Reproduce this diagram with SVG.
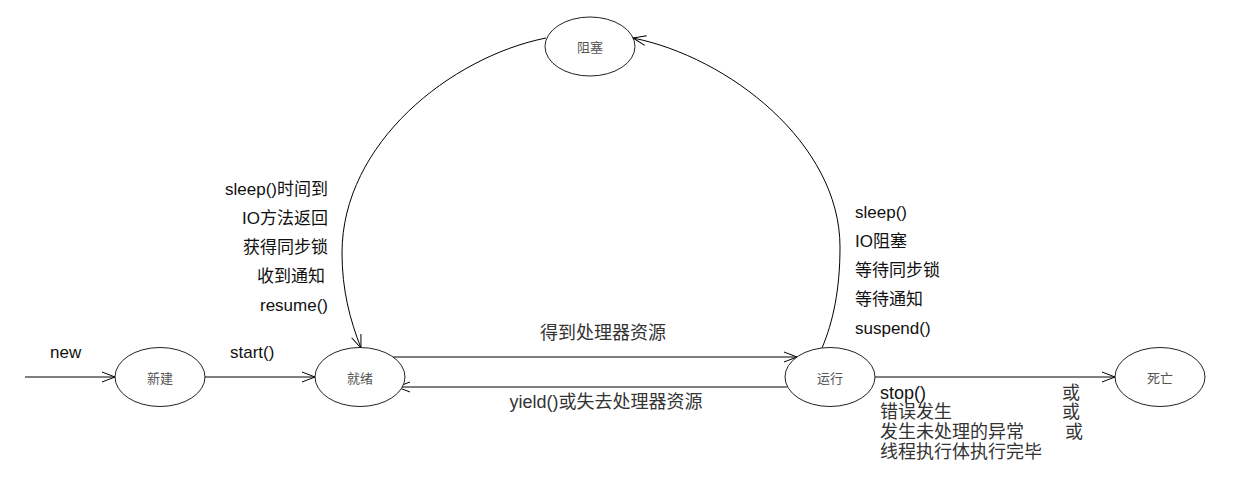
<svg xmlns="http://www.w3.org/2000/svg" width="1248" height="499" viewBox="0 0 1248 499">
<style>
.node ellipse{fill:#fff;stroke:#222;stroke-width:1}
.node text{font-family:"Liberation Sans","Noto Sans CJK SC",sans-serif;font-size:13px;fill:#555;text-anchor:middle}
.edge{fill:none;stroke:#000;stroke-width:1;marker-end:url(#arr)}
.lbl{font-family:"Liberation Sans","Noto Sans CJK SC",sans-serif;font-size:17px;fill:#111}
.mid{font-family:"Liberation Sans","Noto Sans CJK SC",sans-serif;font-size:18px;fill:#333;text-anchor:middle}
.bot{font-family:"Liberation Sans","Noto Sans CJK SC",sans-serif;font-size:18px;fill:#333}
</style>
<defs>
<marker id="arr" markerUnits="userSpaceOnUse" viewBox="-15 -10 20 20" markerWidth="20" markerHeight="20" refX="0" refY="0" orient="auto" overflow="visible">
<path d="M-13,-5 L0,0 L-13,5" fill="none" stroke="#000" stroke-width="1"/>
</marker>
</defs>
<rect width="1248" height="499" fill="#fff"/>
<g id="connectors">
<path class="edge" d="M25,377 L115,377"/>
<path class="edge" d="M204,377 L315,377"/>
<path class="edge" d="M393,357 L797,357"/>
<path class="edge" d="M787,387 L397,387"/>
<path class="edge" d="M875,377 L1115,377"/>
<path class="edge" d="M546,38 C451,57 342,143 342,253 C342,290 350,320 361,348"/>
<path class="edge" d="M822,348 C833,322 840,290 840,247 C840,143 728,57 633,38"/>
</g>
<g id="node-new" class="node"><ellipse cx="160" cy="377" rx="45" ry="29.5"/><text x="160" y="383">新建</text></g>
<g id="node-ready" class="node"><ellipse cx="360" cy="377" rx="45" ry="29.5"/><text x="360" y="383">就绪</text></g>
<g id="node-running" class="node"><ellipse cx="830" cy="377" rx="45" ry="29.5"/><text x="830" y="383">运行</text></g>
<g id="node-dead" class="node"><ellipse cx="1160" cy="377" rx="45" ry="29.5"/><text x="1160" y="383">死亡</text></g>
<g id="node-blocked" class="node"><ellipse cx="590" cy="46.5" rx="45" ry="29.5"/><text x="590" y="52">阻塞</text></g>
<g id="labels">
<text class="lbl" x="50" y="358">new</text>
<text class="lbl" x="230" y="358">start()</text>
<g text-anchor="end">
<text class="lbl" x="328" y="195">sleep()时间到</text>
<text class="lbl" x="328" y="224">IO方法返回</text>
<text class="lbl" x="328" y="253">获得同步锁</text>
<text class="lbl" x="325" y="282">收到通知</text>
<text class="lbl" x="328" y="311">resume()</text>
</g>
<text class="lbl" x="855" y="218">sleep()</text>
<text class="lbl" x="855" y="247">IO阻塞</text>
<text class="lbl" x="855" y="276">等待同步锁</text>
<text class="lbl" x="855" y="305">等待通知</text>
<text class="lbl" x="855" y="334">suspend()</text>
<text class="mid" x="603" y="339">得到处理器资源</text>
<text class="mid" x="606" y="408">yield()或失去处理器资源</text>
<text class="bot" x="880" y="399" style="fill:#111">stop()</text>
<text class="bot" x="880" y="418">错误发生</text>
<text class="bot" x="880" y="438">发生未处理的异常</text>
<text class="bot" x="880" y="458">线程执行体执行完毕</text>
<text class="bot" x="1062" y="399">或</text>
<text class="bot" x="1062" y="418">或</text>
<text class="bot" x="1065" y="438">或</text>
</g>
</svg>
